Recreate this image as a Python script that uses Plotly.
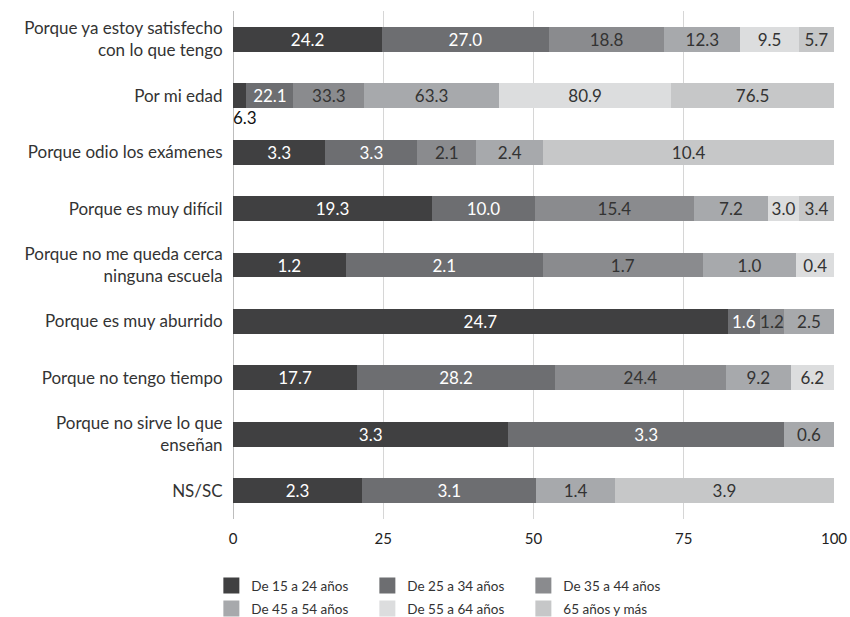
import plotly.graph_objects as go

categories = [
    "Porque ya estoy satisfecho<br>con lo que tengo",
    "Por mi edad",
    "Porque odio los exámenes",
    "Porque es muy difícil",
    "Porque no me queda cerca<br>ninguna escuela",
    "Porque es muy aburrido",
    "Porque no tengo tiempo",
    "Porque no sirve lo que<br>enseñan",
    "NS/SC",
]

series_names = [
    "De 15 a 24 años",
    "De 25 a 34 años",
    "De 35 a 44 años",
    "De 45 a 54 años",
    "De 55 a 64 años",
    "65 años y más",
]

v_15_24 = [24.2, 6.3, 3.3, 19.3, 1.2, 24.7, 17.7, 3.3, 2.3]
v_25_34 = [27.0, 22.1, 3.3, 10.0, 2.1, 1.6, 28.2, 3.3, 3.1]
v_35_44 = [18.8, 33.3, 2.1, 15.4, 1.7, 1.2, 24.4, None, None]
v_45_54 = [12.3, 63.3, 2.4, 7.2, 1.0, 2.5, 9.2, 0.6, 1.4]
v_55_64 = [9.5, 80.9, None, 3.0, 0.4, None, 6.2, None, None]
v_65_mas = [5.7, 76.5, 10.4, 3.4, None, None, None, None, 3.9]

series_values = [v_15_24, v_25_34, v_35_44, v_45_54, v_55_64, v_65_mas]

x_ticks = [0, 25, 50, 75, 100]

# label drawn under the bar instead of inside (series index, category index)
labels_below = [(0, 1)]

colors = ["#404041", "#6d6e71", "#8a8b8e", "#a7a9ac", "#dcddde", "#c6c7c8"]
text_colors = ["#ffffff", "#ffffff", "#333333", "#333333", "#333333", "#333333"]

FONT = "Lato, 'Open Sans', sans-serif"

fig = go.Figure()
for i, (name, vals) in enumerate(zip(series_names, series_values)):
    texts = []
    for j, v in enumerate(vals):
        if v is None or (i, j) in labels_below:
            texts.append("")
        else:
            texts.append(f"{v:.1f}")
    fig.add_trace(go.Bar(
        name=name,
        y=categories,
        x=[0 if v is None else v for v in vals],
        orientation="h",
        marker=dict(color=colors[i], line=dict(width=0)),
        text=texts,
        textposition="inside",
        insidetextanchor="middle",
        textangle=0,
        constraintext="none",
        insidetextfont=dict(family=FONT, size=17, color=text_colors[i]),
        showlegend=False,
        hoverinfo="skip",
    ))

# legend entries (square swatches)
for i, name in enumerate(series_names):
    fig.add_trace(go.Scatter(
        name=name, x=[None], y=[None], mode="markers",
        marker=dict(symbol="square", size=16, color=colors[i], line=dict(width=0)),
        legend="legend" if i < 3 else "legend2",
        showlegend=True, hoverinfo="skip",
    ))

for (si, ci) in labels_below:
    fig.add_annotation(
        x=0, y=categories[ci], xref="x", yref="y",
        text=f"{series_values[si][ci]:.1f}",
        showarrow=False, xanchor="left", yanchor="middle", yshift=-22, xshift=-2,
        font=dict(family=FONT, size=17, color="#111111"),
    )

legend_common = dict(
    orientation="h", xanchor="left", yanchor="top", traceorder="normal",
    entrywidth=111, font=dict(family=FONT, size=13.5, color="#333333"),
    itemclick=False, itemdoubleclick=False, tracegroupgap=0,
    bgcolor="rgba(0,0,0,0)",
)

fig.update_layout(
    width=850, height=617,
    barmode="stack", barnorm="percent", bargap=0.56,
    plot_bgcolor="white", paper_bgcolor="white",
    margin=dict(l=233, r=16, t=10.5, b=97.5, autoexpand=False),
    font=dict(family=FONT, size=17, color="#333333"),
    xaxis=dict(
        range=[0, 100], tickvals=x_ticks,
        showgrid=True, gridcolor="#d6d6d6", gridwidth=1,
        zeroline=True, zerolinecolor="#bdbdbd", zerolinewidth=1,
        showline=False, ticks="outside", ticklen=6, tickcolor="rgba(0,0,0,0)",
        tickfont=dict(family=FONT, size=15, color="#222222"),
        fixedrange=True,
    ),
    yaxis=dict(
        autorange="reversed", showgrid=False, zeroline=False, showline=False,
        ticks="outside", ticklen=6, tickcolor="rgba(0,0,0,0)",
        tickfont=dict(family=FONT, size=17, color="#333333"),
        fixedrange=True,
    ),
    legend=dict(x=-0.036, y=-0.101, **legend_common),
    legend2=dict(x=-0.036, y=-0.146, **legend_common),
    showlegend=True,
)

fig.write_html(
    "out.html",
    config={"displayModeBar": False},
    post_script="document.body.style.margin='0px';",
)
